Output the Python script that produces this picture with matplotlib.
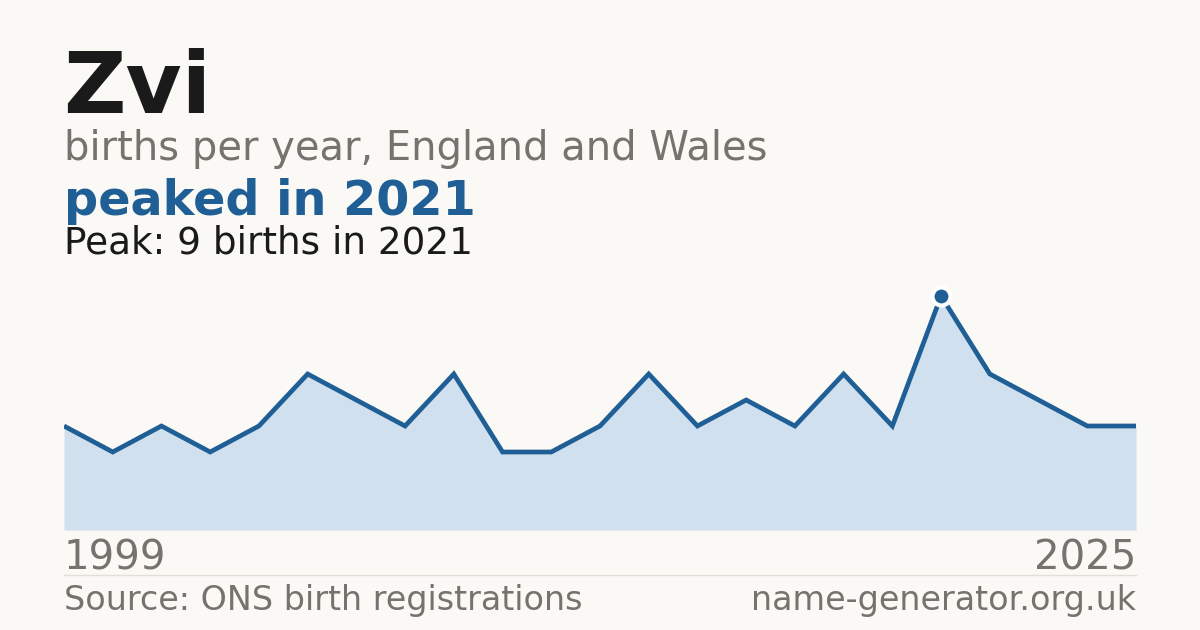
import matplotlib
matplotlib.use("Agg")
import matplotlib.pyplot as plt

years = [1999, 2000, 2001, 2002, 2004, 2005, 2006, 2007, 2009, 2010, 2012, 2013,
         2014, 2016, 2017, 2018, 2019, 2020, 2021, 2022, 2023, 2024, 2025]
births = [4, 3, 4, 3, 4, 6, 5, 4, 6, 3, 3, 4, 6, 4, 5, 4, 6, 4, 9, 6, 5, 4, 4]

name = "Zvi"
subtitle = "births per year, England and Wales"
headline = "peaked in 2021"
peak_note = "Peak: 9 births in 2021"
source = "Source: ONS birth registrations"
site = "name-generator.org.uk"

BG = "#faf9f5"
DARK = "#1a1a1a"
GREY = "#76726d"
BLUE = "#1f5f96"
FILL = "#d0e0ef"

W, H = 1200, 630
fig = plt.figure(figsize=(W / 100, H / 100), dpi=100, facecolor=BG)

def fx(px):
    return px / W

def fy(py):
    return 1 - py / H

# chart axes: x 64..1136, y 270..530 (px)
ax = fig.add_axes([fx(64), fy(530), fx(1136) - fx(64), (530 - 270) / H])
ax.set_facecolor(BG)
xs = list(range(len(years)))
ax.fill_between(xs, births, 0, color=FILL, lw=0)
ax.plot(xs, births, color=BLUE, lw=3.4, solid_joinstyle="miter", solid_capstyle="butt")
pk = births.index(max(births))
ax.plot([xs[pk]], [births[pk]], "o", color=BLUE, ms=13, mec="white", mew=3, zorder=5)
ax.set_xlim(0, len(years) - 1)
ax.set_ylim(0, 10)
ax.axis("off")

fig.text(fx(63), fy(113), name, fontsize=62, fontweight="bold", color=DARK, va="baseline")
fig.text(fx(64), fy(160), subtitle, fontsize=28.8, color=GREY, va="baseline")
fig.text(fx(64), fy(215), headline, fontsize=34.4, fontweight="bold", color=BLUE, va="baseline")
fig.text(fx(64), fy(254), peak_note, fontsize=26.9, color=DARK, va="baseline")

fig.text(fx(64), fy(570), str(years[0]), fontsize=29, color=GREY, va="baseline")
fig.text(fx(1136), fy(570), str(years[-1]), fontsize=29, color=GREY, va="baseline", ha="right")

fig.add_artist(plt.Line2D([fx(64), fx(1136)], [fy(574.5), fy(574.5)], color="#e2dfd8", lw=1))

fig.text(fx(64), fy(610), source, fontsize=24, color=GREY, va="baseline")
fig.text(fx(1136), fy(610), site, fontsize=24, color=GREY, va="baseline", ha="right")

fig.savefig("out.png", dpi=100, facecolor=BG)
